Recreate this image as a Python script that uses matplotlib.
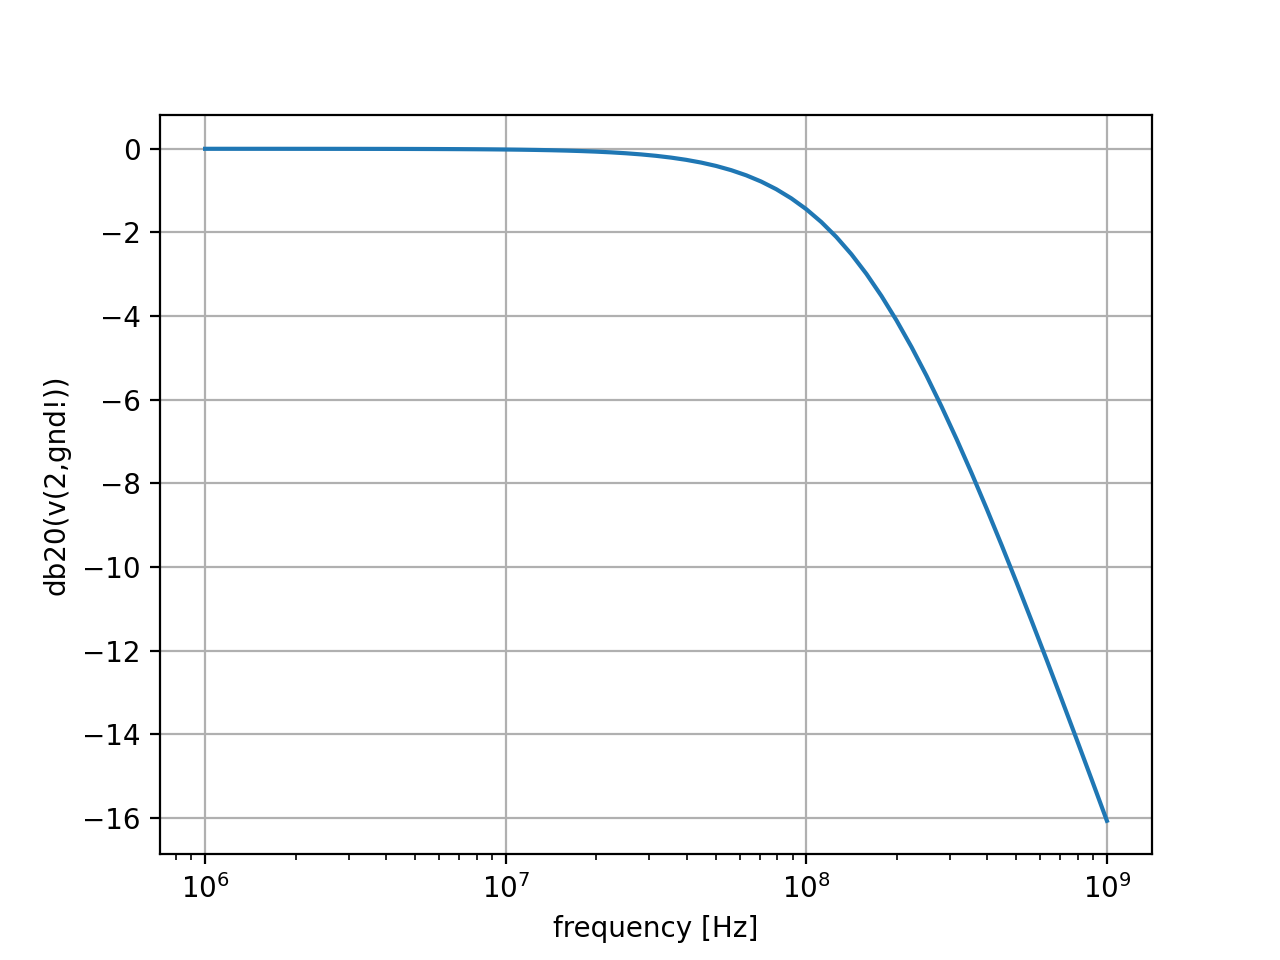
import matplotlib
matplotlib.use("Agg")
import matplotlib.pyplot as plt

freq_hz = [1.000e6, 1.122e6, 1.259e6, 1.413e6, 1.585e6, 1.778e6, 1.995e6, 2.239e6, 2.512e6, 2.818e6,
           3.162e6, 3.548e6, 3.981e6, 4.467e6, 5.012e6, 5.623e6, 6.310e6, 7.079e6, 7.943e6, 8.913e6,
           1.000e7, 1.122e7, 1.259e7, 1.413e7, 1.585e7, 1.778e7, 1.995e7, 2.239e7, 2.512e7, 2.818e7,
           3.162e7, 3.548e7, 3.981e7, 4.467e7, 5.012e7, 5.623e7, 6.310e7, 7.079e7, 7.943e7, 8.913e7,
           1.000e8, 1.122e8, 1.259e8, 1.413e8, 1.585e8, 1.778e8, 1.995e8, 2.239e8, 2.512e8, 2.818e8,
           3.162e8, 3.548e8, 3.981e8, 4.467e8, 5.012e8, 5.623e8, 6.310e8, 7.079e8, 7.943e8, 8.913e8,
           1.000e9]
gain_db = [-0.0002, -0.0002, -0.0003, -0.0003, -0.0004, -0.0005, -0.0007, -0.0009, -0.0011, -0.0014,
           -0.0017, -0.0022, -0.0027, -0.0034, -0.0043, -0.0054, -0.0068, -0.0086, -0.0108, -0.0136,
           -0.0171, -0.0215, -0.0271, -0.0341, -0.0429, -0.0539, -0.0677, -0.0851, -0.1069, -0.1341,
           -0.1682, -0.2107, -0.2636, -0.3293, -0.4105, -0.511, -0.634, -0.784, -0.966, -1.185,
           -1.445, -1.752, -2.110, -2.523, -2.992, -3.519, -4.103, -4.741, -5.429, -6.166,
           -6.944, -7.760, -8.608, -9.483, -10.381, -11.299, -12.232, -13.179, -14.135, -15.100,
           -16.072]

fig, ax = plt.subplots(figsize=(6.4, 4.8), dpi=200)
ax.semilogx(freq_hz, gain_db)
ax.grid(True)
ax.set_xlabel("frequency [Hz]")
ax.set_ylabel("db20(v(2,gnd!))")
fig.savefig("out.png", dpi=200)
